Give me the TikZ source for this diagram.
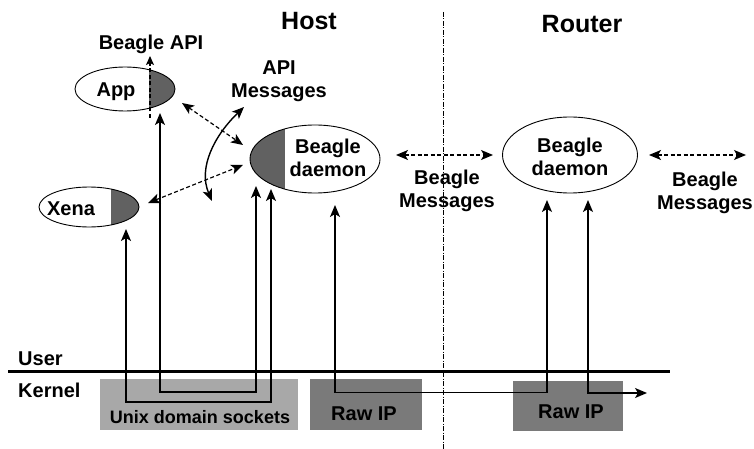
\documentclass[tikz,border=0pt]{standalone}
\usepackage{fontspec}
\setmainfont{Liberation Sans}
\usetikzlibrary{shapes.geometric,arrows.meta}
\begin{document}
\begin{tikzpicture}[x=1pt,y=-1pt,
  lbl/.style={font=\fontsize{20}{23}\selectfont\bfseries, inner sep=0pt, align=center},
  ttl/.style={font=\fontsize{25}{28}\selectfont\bfseries, inner sep=0pt},
  small/.style={font=\fontsize{18}{21}\selectfont\bfseries, inner sep=0pt},
  ell/.style={draw, ellipse, inner sep=0pt, line width=0.9pt},
  sol/.style={line width=1.4pt, {Stealth[length=12pt,width=10pt,inset=3pt]}-{Stealth[length=12pt,width=10pt,inset=3pt]}},
  dsh/.style={line width=1.2pt, dash pattern=on 4pt off 2.5pt, {Stealth[length=12pt,width=10pt,inset=3pt]}-{Stealth[length=12pt,width=10pt,inset=3pt]}},
  dsh1/.style={line width=1.2pt, dash pattern=on 4pt off 2.5pt, -{Stealth[length=9pt,width=8pt,inset=2pt]}},
  shd/.style={fill=black!62},
  boxA/.style={fill=black!34, inner sep=0pt},
  boxB/.style={fill=black!52, inner sep=0pt},
  sep/.style={line width=0.8pt, dash pattern=on 5pt off 1.5pt on 1pt off 1.5pt}
]
\useasboundingbox (0,0) rectangle (754,449);

% kernel boxes
\node[boxA, minimum width=198pt, minimum height=51pt] (sock) at (199,404.5) {};
\node[boxB, minimum width=112pt, minimum height=51pt] (rip1) at (366,404.5) {};
\node[boxB, minimum width=110pt, minimum height=50pt] (rip2) at (568,406) {};

% shaded parts of ellipses
\begin{scope}
  \clip (125,89) ellipse [x radius=50pt, y radius=22pt];
  \fill[shd] (149,60) rectangle (180,120);
\end{scope}
\begin{scope}
  \clip (89,207) ellipse [x radius=50pt, y radius=20pt];
  \fill[shd] (111,180) rectangle (145,235);
\end{scope}
\begin{scope}
  \clip (315,159) ellipse [x radius=65pt, y radius=34pt];
  \fill[shd] (245,120) rectangle (285,200);
\end{scope}

% ellipses
\node[ell, minimum width=100pt, minimum height=44pt] (app) at (125,89) {};
\node[ell, minimum width=100pt, minimum height=40pt] (xena) at (89,207) {};
\node[ell, minimum width=130pt, minimum height=68pt] (hd) at (315,159) {};
\node[ell, minimum width=135pt, minimum height=76pt] (rd) at (570,155) {};

% texts
\node[ttl, anchor=base] (host) at (309,30) {Host};
\node[ttl, anchor=base] (router) at (582,33) {Router};
\node[lbl, anchor=base] (bapi) at (151,50) {Beagle API};
\node[lbl] (apimsg) at (279,81) {API\\Messages};
\node[lbl, anchor=base] (apptxt) at (116,97) {App};
\node[lbl, anchor=base] (xenatxt) at (71,215) {Xena};
\node[lbl] (hdtxt) at (328,158) {Beagle\\daemon};
\node[lbl] (rdtxt) at (570,157) {Beagle\\daemon};
\node[lbl] (bm1) at (447,191) {Beagle\\Messages};
\node[lbl] (bm2) at (705,193) {Beagle\\Messages};
\node[lbl, anchor=base west] (user) at (18,365) {User};
\node[lbl, anchor=base west] (kernel) at (18,397) {Kernel};
\node[small, anchor=base] (socktxt) at (200,423) {Unix domain sockets};
\node[lbl, anchor=base] (rip1txt) at (364,420) {Raw IP};
\node[lbl, anchor=base] (rip2txt) at (571,418) {Raw IP};

% coordinates
\coordinate (apiS) at (150,118);
\coordinate (apiN) at (150,56);
\coordinate (appIn) at (160,113);
\coordinate (xenaIn) at (126,229);
\coordinate (hdIn1) at (256,186);
\coordinate (hdIn2) at (271,189);
\coordinate (hdIn3) at (335,205);
\coordinate (rdIn1) at (547,200);
\coordinate (rdIn2) at (588,200);
\coordinate (loopA) at (200,392);
\coordinate (loopB) at (200,402);
\coordinate (ipL) at (440,392.5);
\coordinate (ipR) at (647,393);
\coordinate (ukL) at (8,371);
\coordinate (ukR) at (670,371);
\coordinate (sepT) at (443,12);
\coordinate (sepB) at (443,449);
\coordinate (curT) at (244,107);
\coordinate (curB) at (212,201);

% separator lines
\draw[sep] (sepT) -- (sepB);
\draw[line width=3pt] (ukL) -- (ukR);

% dashed arrows
\draw[dsh1] (apiS) -- (apiN);
\draw[dsh] (182,103) -- (243,145);
\draw[dsh] (148,203) -- (243,165);
\draw[dsh] (396,155) -- (493,155);
\draw[dsh] (649,155) -- (746,155);

% curved API arrow
\draw[sol] (curT) .. controls (214,136) and (198,168) .. (curB);

% solid paths
\draw[sol] (appIn) |- (loopA) -| (hdIn1);
\draw[sol] (xenaIn) |- (loopB) -| (hdIn2);
\draw[sol] (hdIn3) |- (ipL) -| (rdIn1);
\draw[sol] (rdIn2) |- (ipR);
\end{tikzpicture}
\end{document}
